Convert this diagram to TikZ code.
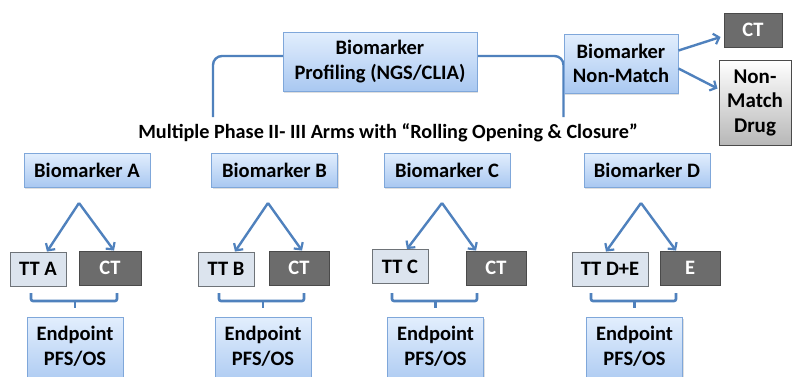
\documentclass[tikz,border=0pt]{standalone}
\usepackage{fontspec}
\setmainfont{Carlito}
\usetikzlibrary{arrows.meta,shadows,calc}

\definecolor{linkblue}{HTML}{4F81BD}
\definecolor{boxtop}{HTML}{E2EEFD}
\definecolor{boxbot}{HTML}{A9C8F1}
\definecolor{boxedge}{HTML}{7FA7DA}
\definecolor{ttfill}{HTML}{DCE4EE}
\definecolor{ttedge}{HTML}{6E7378}
\definecolor{ctfill}{HTML}{6C6C6C}
\definecolor{ctedge}{HTML}{4A4A4A}

\tikzset{
  base/.style={font=\bfseries\fontsize{20.5}{24.5}\selectfont, align=center, inner sep=0pt},
  bluebox/.style={base, draw=boxedge, line width=0.9pt, top color=boxtop, bottom color=boxbot,
    drop shadow={opacity=0.25, shadow xshift=1.2pt, shadow yshift=-1.8pt}},
  ttbox/.style={base, draw=ttedge, line width=0.9pt, fill=ttfill, minimum height=34pt},
  ctbox/.style={base, draw=ctedge, line width=0.9pt, fill=ctfill, text=white, minimum height=34pt},
  drugbox/.style={base, draw=ctedge, line width=1pt, top color=white, bottom color=black!28,
    font=\bfseries\fontsize{21}{24.5}\selectfont},
  link/.style={draw=linkblue, line width=2.4pt},
  linkarrow/.style={link, -{Straight Barb[length=5pt,width=11pt,line width=2.2pt]}},
  bracket/.style={draw=linkblue, line width=2.6pt, rounded corners=2pt}
}

\begin{document}
\begin{tikzpicture}[x=1pt,y=-1pt]
\clip (0,0) rectangle (793,376);
\fill[white] (0,0) rectangle (793,376);

% connector from the profiling box down to the arm row
\draw[link, rounded corners=9pt] (283,56) -- (213,56) -- (213,117);
\draw[link, rounded corners=9pt] (477,56) -- (563.5,56) -- (563.5,117);

% top: profiling and non-match branch
\node[bluebox, minimum width=194pt, minimum height=59pt] (prof) at (380,61.5) {Biomarker\\Profiling (NGS/CLIA)};
\node[bluebox, minimum width=114pt, minimum height=59pt] (nm) at (621,63.5) {Biomarker\\Non-Match};
\node[ctbox, minimum width=58pt] (ctTop) at (753,30) {CT};
\node[drugbox, minimum width=72pt, minimum height=85pt] (drug) at (755,102.5) {Non-\\Match\\Drug};

\draw[linkarrow] ($(nm.east)+(0,-13)$) -- ($(ctTop.west)+(-3,7)$);
\draw[linkarrow] ($(nm.east)+(0,5)$) -- ($(drug.west)+(-1,-14)$);

\node[base, font=\bfseries\fontsize{20.2}{24}\selectfont] (title) at (388,133)
  {Multiple Phase II- III Arms with “Rolling Opening \& Closure”};

% the four biomarker arms
\foreach \id/\cx/\lbl/\ttx/\tty/\ttw/\ttl/\ctx/\ctw/\ctl/\apx/\lx/\rx/\brl/\brr/\epx in {
  A/87/A/38/269/56/TT A/110/62/CT/79/47/114/31/117/75,
  B/274.5/B/226/269/56/TT B/299/60/CT/268/235/302/219/304/263,
  C/447/C/400/266.5/56/TT C/496/60/CT/442/407/476/392/477/435.5,
  D/647/D/610/269/76/TT D+E/690/60/E/641/606/676/591/676/634.5}
{
  \node[bluebox, minimum width=126pt, minimum height=34pt] (bm\id) at (\cx,170) {Biomarker \lbl};
  \node[ttbox, minimum width=\ttw pt] (tt\id) at (\ttx,\tty) {\ttl};
  \node[ctbox, minimum width=\ctw pt] (ct\id) at (\ctx,268) {\ctl};
  \node[bluebox, anchor=north, minimum width=96pt, inner ysep=7pt, minimum height=70pt,
        text depth=13pt] (ep\id) at (\epx,317) {Endpoint\\PFS/OS};
  \coordinate (apex\id) at (\apx,203);
  \draw[linkarrow] (apex\id) -- (tt\id.north -| \lx,247);
  \draw[linkarrow] (apex\id) -- (ct\id.north -| \rx,247);
  \draw[bracket] (\brl,293) -- (\brl,301) -- (\brr,301) -- (\brr,293);
  \draw[link] ($(ep\id.north)+(0,-16)$) -- ($(ep\id.north)+(0,-9)$);
}
\end{tikzpicture}
\end{document}
